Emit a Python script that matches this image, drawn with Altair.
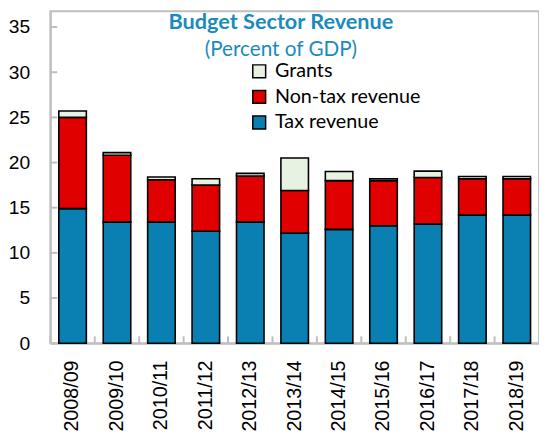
import altair as alt
import pandas as pd

years = ["2008/09", "2009/10", "2010/11", "2011/12", "2012/13", "2013/14",
         "2014/15", "2015/16", "2016/17", "2017/18", "2018/19"]
tax = [14.9, 13.4, 13.4, 12.4, 13.4, 12.2, 12.6, 13.0, 13.2, 14.2, 14.2]
nontax = [10.1, 7.4, 4.7, 5.1, 5.1, 4.7, 5.4, 5.0, 5.15, 4.0, 4.0]
grants = [0.7, 0.3, 0.3, 0.7, 0.3, 3.6, 1.0, 0.2, 0.7, 0.25, 0.25]
series = ["Tax revenue", "Non-tax revenue", "Grants"]
legend_order = ["Grants", "Non-tax revenue", "Tax revenue"]
y_ticks = [0, 5, 10, 15, 20, 25, 30, 35]

rows = []
for i, yr in enumerate(years):
    for k, (s, vals) in enumerate(zip(series, [tax, nontax, grants])):
        rows.append({"year": yr, "series": s, "value": vals[i], "ord": k})
df = pd.DataFrame(rows)
df_years = pd.DataFrame({"year": years})
df_yt = pd.DataFrame({"v": y_ticks})

GRAY = "#bfbfbf"
AXFONT = "Liberation Sans"

xscale = alt.Scale(paddingInner=0.38, paddingOuter=0.19)

bars = alt.Chart(df).mark_bar(stroke="black", strokeWidth=1.6).encode(
    x=alt.X("year:N", sort=years, scale=xscale,
            axis=alt.Axis(title=None, labelAngle=-90, labelFont=AXFONT,
                          labelFontSize=20, labelColor="black", tickSize=0,
                          labelPadding=17, domainColor=GRAY, domainWidth=2)),
    y=alt.Y("value:Q", stack="zero",
            scale=alt.Scale(domain=[0, 36.75], nice=False),
            axis=alt.Axis(title=None, values=y_ticks, tickSize=0, labelPadding=21,
                          grid=False, domainColor=GRAY, domainWidth=2,
                          labelFont=AXFONT, labelFontSize=19.5, labelColor="black")),
    color=alt.Color("series:N",
                    scale=alt.Scale(domain=legend_order,
                                    range=["#e8f2e3", "#e00000", "#0a80b2"]),
                    legend=alt.Legend(title=None, orient="none", legendX=202, legendY=51,
                                      symbolType="square", symbolSize=170,
                                      symbolStrokeColor="black", symbolStrokeWidth=1.5,
                                      labelFont="Lato", labelFontSize=20, labelColor="black",
                                      rowPadding=6, padding=0, labelOffset=6)),
    order=alt.Order("ord:Q"),
)

yticks = alt.Chart(df_yt).mark_rule(color=GRAY, strokeWidth=2).encode(
    y=alt.Y("v:Q"), x=alt.value(0), x2=alt.value(7)
)

xticks = alt.Chart(df_years).mark_rule(color=GRAY, strokeWidth=2, xOffset=-8.57).encode(
    x=alt.X("year:N", sort=years, bandPosition=0),
    y=alt.value(337), y2=alt.value(330)
)

chart = alt.layer(bars, yticks, xticks).properties(
    width=496, height=337,
    autosize=alt.AutoSizeParams(type="none"),
    padding={"left": 43, "top": 0, "right": 0, "bottom": 95},
    title=alt.TitleParams(text="Budget Sector Revenue", subtitle="(Percent of GDP)",
                          anchor="middle", dx=-14, offset=-50,
                          font="Lato", fontSize=22, fontWeight="bold", color="#1a8bbd",
                          subtitleFont="Lato", subtitleFontSize=21, subtitleColor="#1a8bbd",
                          subtitlePadding=5),
).configure_view(stroke=GRAY, strokeWidth=2)

chart.save("out.html", embed_options={"renderer": "svg", "actions": False})
